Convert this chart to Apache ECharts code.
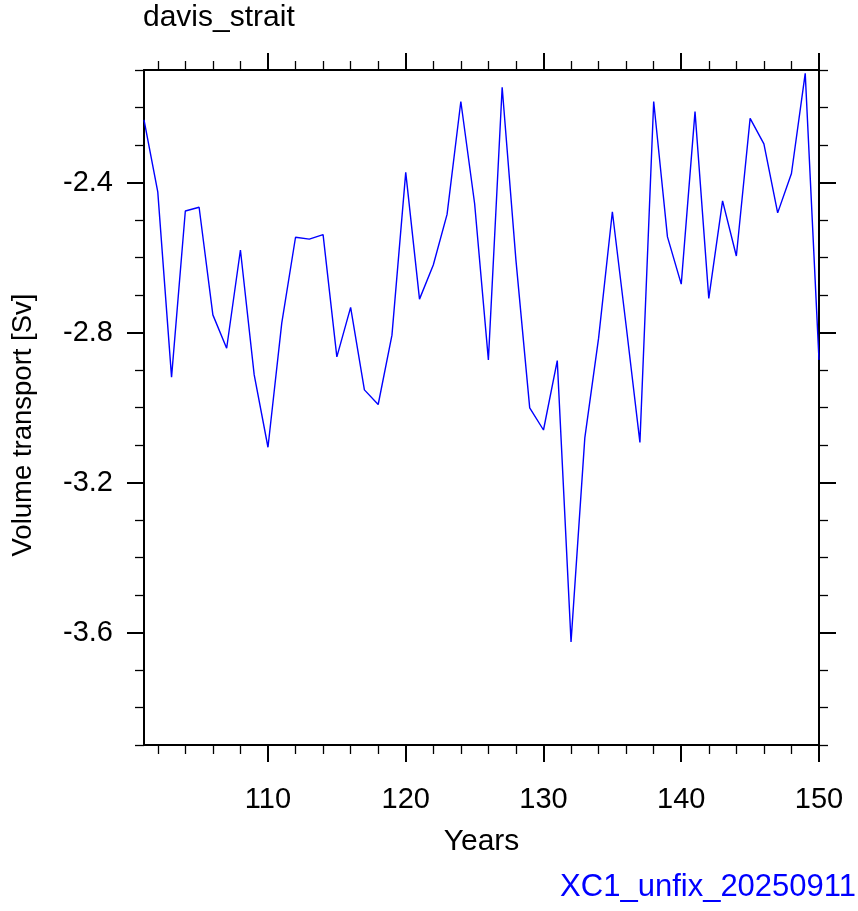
<!DOCTYPE html>
<html>
<head>
<meta charset="utf-8">
<script src="https://cdn.jsdelivr.net/npm/echarts@6/dist/echarts.min.js"></script>
<style>
html,body{margin:0;padding:0;background:#fff;}
#chart{width:858px;height:911px;}
</style>
</head>
<body>
<div id="chart"></div>
<script>
const years = [101,102,103,104,105,106,107,108,109,110,111,112,113,114,115,116,117,118,119,120,121,122,123,124,125,126,127,128,129,130,131,132,133,134,135,136,137,138,139,140,141,142,143,144,145,146,147,148,149,150];
const transport = [-2.233,-2.425,-2.919,-2.476,-2.466,-2.753,-2.842,-2.580,-2.913,-3.106,-2.775,-2.546,-2.551,-2.539,-2.865,-2.733,-2.953,-2.992,-2.807,-2.373,-2.711,-2.620,-2.485,-2.184,-2.456,-2.873,-2.146,-2.607,-3.001,-3.060,-2.875,-3.625,-3.081,-2.815,-2.478,-2.782,-3.093,-2.184,-2.545,-2.671,-2.211,-2.709,-2.449,-2.596,-2.229,-2.297,-2.481,-2.376,-2.109,-2.873];
const xMajorTicks = [110,120,130,140,150];
const xMinorTicks = [102,104,106,108,112,114,116,118,122,124,126,128,132,134,136,138,142,144,146,148];
const yMajorTicks = [-3.6,-3.2,-2.8,-2.4];
const yMinorTicks = [-3.9,-3.8,-3.7,-3.5,-3.4,-3.3,-3.1,-3.0,-2.9,-2.7,-2.6,-2.5,-2.3,-2.2,-2.1];
const titleText = 'davis_strait';
const subText = 'XC1_unfix_20250911';
const xName = 'Years';
const yName = 'Volume transport [Sv]';

const FONT = '"Liberation Sans", Arial, Helvetica, sans-serif';
const chart = echarts.init(document.getElementById('chart'), null, {renderer:'canvas'});

function xAx(pos, major, withLabel){
  return {
    type:'value', min:101, max:150, position:pos,
    axisLine:{show:!major, onZero:false, lineStyle:{color:'#000', width:2}},
    axisTick:{show:true, customValues: major ? xMajorTicks : xMinorTicks, length: major ? 17 : 9,
      lineStyle:{color:'#000', width: major ? 2 : 1.3}},
    axisLabel: withLabel ? {show:true, customValues:xMajorTicks, fontSize:29, fontFamily:FONT, color:'#000', margin:40} : {show:false},
    splitLine:{show:false},
    name: withLabel ? xName : '',
    nameLocation:'middle', nameGap:82,
    nameTextStyle:{fontSize:30, fontFamily:FONT, color:'#000'}
  };
}
function yAx(pos, major, withLabel){
  return {
    type:'value', min:-3.9, max:-2.1, position:pos,
    axisLine:{show:!major, onZero:false, lineStyle:{color:'#000', width:2}},
    axisTick:{show:true, customValues: major ? yMajorTicks : yMinorTicks, length: major ? 17 : 9,
      lineStyle:{color:'#000', width: major ? 2 : 1.3}},
    axisLabel: withLabel ? {show:true, customValues:yMajorTicks, fontSize:29, fontFamily:FONT, color:'#000', margin:31,
      formatter:v=>v.toFixed(1)} : {show:false},
    splitLine:{show:false}
  };
}

chart.setOption({
  backgroundColor:'#fff',
  animation:false,
  grid:{left:144, right:39, top:70, bottom:166, containLabel:false},
  xAxis:[xAx('bottom',false,false), xAx('bottom',true,true), xAx('top',false,false), xAx('top',true,false)],
  yAxis:[yAx('left',false,false), yAx('left',true,true), yAx('right',false,false), yAx('right',true,false)],
  graphic:[
    {type:'text', left:143, top:3, style:{text:titleText, fontSize:30, fontFamily:FONT, fill:'#000'}},
    {type:'text', right:2, top:872, style:{text:subText, fontSize:31, fontFamily:FONT, fill:'#0000ff'}},
    {type:'text', x:23, y:425, rotation:Math.PI/2,
      style:{text:yName, fontSize:27.5, fontFamily:FONT, fill:'#000', align:'center', verticalAlign:'middle'}}
  ],
  series:[{
    type:'line', xAxisIndex:0, yAxisIndex:0,
    data: years.map((y,i)=>[y, transport[i]]),
    showSymbol:false, symbol:'none',
    lineStyle:{color:'#0000ff', width:1.4},
    clip:false
  }]
});
</script>
</body>
</html>
